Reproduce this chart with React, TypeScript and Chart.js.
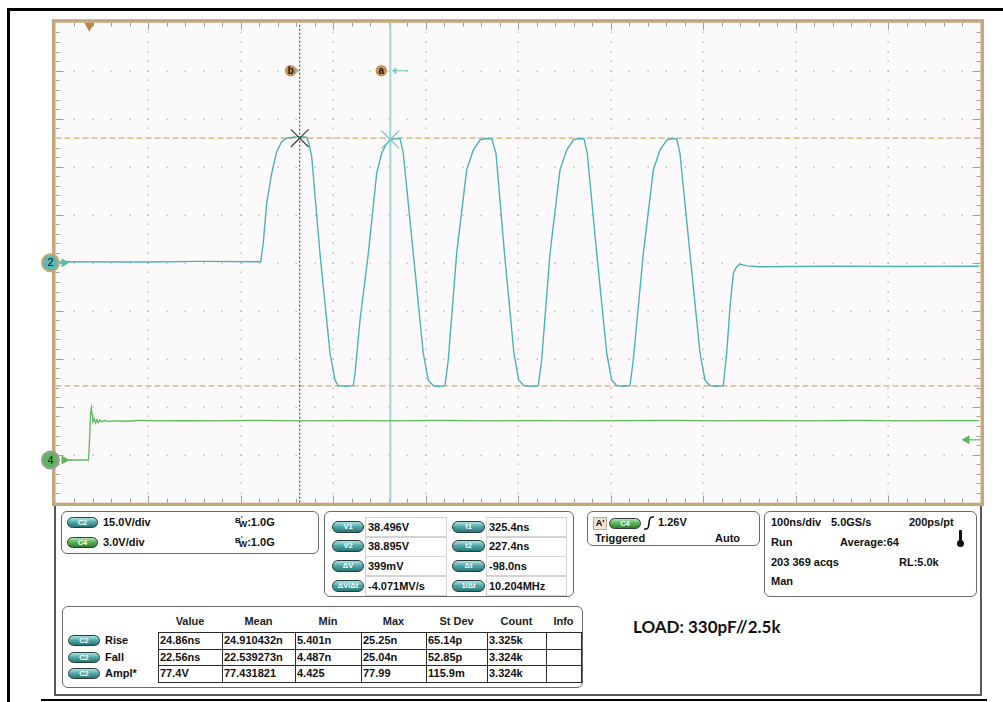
import React, { useEffect, useRef } from "react";
import { Chart, registerables } from "chart.js";

Chart.register(...registerables);

// ---- acquisition settings (from the scope read-out) ----
const DIVS = 10;
const TIME_PER_DIV_NS = 100;
const TIME_MIN_NS = -36.6; // left graticule edge relative to trigger
const CH2_VOLTS_PER_DIV = 15;
const CH4_VOLTS_PER_DIV = 3;
const CH4_OFFSET_DIV = -4.11;

// ---- Channel 2 trace (teal) ----
const CH2_TIME_NS = [
  -35, 60, 120, 185.2, 188.0, 191.7, 197.1, 202.5, 207.9, 213.3, 220, 225.9, 231, 235.0, 237.8, 240.4,
  249.3, 260.2, 265.6, 269.1, 277, 285.3, 287.2, 292.6, 301.6, 310.6, 316.0, 320.5, 325.0, 330, 335.8,
  339.4, 350.2, 361.0, 366.4, 371.8, 378, 384.5, 388.0, 397.1, 407.9, 415.1, 422.3, 428, 435.0, 439.6,
  448.8, 459.0, 464.2, 469.5, 477, 485.3, 489.0, 498.0, 508.8, 516.0, 523.2, 529, 534.8, 538.3, 548.5,
  559.3, 564.7, 570.1, 577, 584.5, 588.0, 598.9, 609.7, 616.9, 624.2, 630, 635.0, 638.5, 649.3, 660.2,
  665.6, 671.0, 678, 685.3, 689.0, 692.6, 696.2, 699.8, 703.4, 710.6, 725.0, 800, 880, 962,
];
const CH2_VOLTS = [
  0.3, 0.2, 0.4, 0.3, 6.1, 18.6, 27.9, 34.7, 37.8, 38.9, 39.2, 39.4, 39.3, 39.2, 36.8, 33.1,
  2.9, -28.3, -36.7, -38.4, -38.6, -38.4, -34.6, -17.9, 2.9, 27.9, 34.2, 36.8, 38.3, 38.7, 38.9,
  34.2, 2.9, -28.3, -36.7, -38.4, -38.7, -38.4, -30.4, 2.9, 29.0, 35.2, 38.3, 38.8, 38.7, 34.2,
  2.9, -28.3, -36.7, -38.4, -38.6, -38.4, -30.4, 2.9, 29.0, 35.2, 38.3, 38.8, 38.7, 34.2, 2.9,
  -28.3, -36.7, -38.4, -38.6, -38.4, -30.4, 2.9, 29.0, 35.2, 38.3, 38.8, 38.7, 34.2, 2.9, -28.3,
  -36.7, -38.4, -38.6, -38.4, -28.3, -13.8, -3.3, -1.25, -0.4, -1.0, -1.25, -1.1, -1.2, -1.1,
];

// ---- Channel 4 trace (green, trigger source) ----
const CH4_TIME_NS = [
  -30, -0.9, 0.2, 1.2, 2.1, 3.2, 3.9, 5.3, 6.9, 8.3, 9.7, 11.5, 13.7, 16.9, 20.2, 28, 40, 55, 75, 100,
  140, 180, 230, 280, 330, 380, 430, 480, 530, 580, 630, 680, 730, 780, 830, 880, 930, 962,
];
const CH4_VOLTS = [
  0, 0, 1.25, 2.8, 3.27, 2.81, 2.38, 2.56, 2.31, 2.53, 2.34, 2.5, 2.38, 2.47, 2.41, 2.45, 2.42, 2.47, 2.44, 2.46,
  2.44, 2.47, 2.45, 2.46, 2.44, 2.47, 2.45, 2.46, 2.44, 2.46, 2.47, 2.45, 2.46, 2.44, 2.47, 2.45, 2.46, 2.46,
];

// ---- reference levels and cursors ----
const REF_LEVELS_V = [38.9, -38.5];
const CURSOR_LABELS = ["a", "b"];
const CURSOR_T_NS = [325.4, 227.4];
const CURSOR_V = [38.496, 38.895];
const TRIGGER_LEVEL_V = 1.26;

// ---- read-out panel texts ----
const CURSOR_LEFT_LABELS = ["V1", "V2", "ΔV", "ΔV/Δt"];
const CURSOR_LEFT_VALUES = ["38.496V", "38.895V", "399mV", "-4.071MV/s"];
const CURSOR_RIGHT_LABELS = ["t1", "t2", "Δt", "1/Δt"];
const CURSOR_RIGHT_VALUES = ["325.4ns", "227.4ns", "-98.0ns", "10.204MHz"];
const MEAS_HEADERS = ["Value", "Mean", "Min", "Max", "St Dev", "Count", "Info"];
const MEAS_NAMES = ["Rise", "Fall", "Ampl*"];
const MEAS_ROWS = [
  ["24.86ns", "24.910432n", "5.401n", "25.25n", "65.14p", "3.325k", ""],
  ["22.56ns", "22.539273n", "4.487n", "25.04n", "52.85p", "3.324k", ""],
  ["77.4V", "77.431821", "4.425", "77.99", "115.9m", "3.324k", ""],
];

const TEAL = "#4cb3b3";
const GREEN = "#5cb85c";
const TAN = "#c6a67c";
const FONT = '"Liberation Sans", Arial, sans-serif';

const graticule = {
  id: "graticule",
  beforeDatasetsDraw(chart: any) {
    const { ctx, chartArea: a, scales } = chart;
    const xs = scales.x;
    const ys = scales.y2;
    const xDiv = (xs.max - xs.min) / DIVS;
    const yDiv = (ys.max - ys.min) / DIVS;
    ctx.save();
    ctx.fillStyle = "#fcf9fa";
    ctx.fillRect(a.left, a.top, a.right - a.left, a.bottom - a.top);
    ctx.fillStyle = "#b4adad";
    for (let i = 1; i < DIVS; i++) {
      const px = Math.round(xs.getPixelForValue(xs.min + i * xDiv));
      for (let j = 1; j < DIVS * 5; j++) {
        const py = Math.round(ys.getPixelForValue(ys.min + (j * yDiv) / 5));
        ctx.fillRect(px - 0.5, py - 0.5, 1.3, 1.3);
      }
    }
    for (let j = 1; j < DIVS; j++) {
      const py = Math.round(ys.getPixelForValue(ys.min + j * yDiv));
      for (let i = 1; i < DIVS * 5; i++) {
        const px = Math.round(xs.getPixelForValue(xs.min + (i * xDiv) / 5));
        ctx.fillRect(px - 0.5, py - 0.5, 1.3, 1.3);
      }
    }
    ctx.strokeStyle = "#a39c97";
    ctx.lineWidth = 1;
    ctx.beginPath();
    for (let i = 1; i < DIVS * 5; i++) {
      const px = Math.round(xs.getPixelForValue(xs.min + (i * xDiv) / 5)) + 0.5;
      const len = i % 5 === 0 ? 7 : 4;
      ctx.moveTo(px, a.top);
      ctx.lineTo(px, a.top + len);
      ctx.moveTo(px, a.bottom);
      ctx.lineTo(px, a.bottom - len);
    }
    for (let j = 1; j < DIVS * 5; j++) {
      const py = Math.round(ys.getPixelForValue(ys.min + (j * yDiv) / 5)) + 0.5;
      const len = j % 5 === 0 ? 8 : 4;
      ctx.moveTo(a.left, py);
      ctx.lineTo(a.left + len, py);
      ctx.moveTo(a.right, py);
      ctx.lineTo(a.right - len, py);
    }
    ctx.stroke();
    ctx.restore();
  },
  afterDatasetsDraw(chart: any) {
    const { ctx, chartArea: a, scales } = chart;
    const xs = scales.x;
    const y2 = scales.y2;
    const y4 = scales.y4;
    ctx.save();
    // border
    ctx.strokeStyle = TAN;
    ctx.lineWidth = 3.5;
    ctx.strokeRect(a.left - 1.75, a.top - 1.75, a.right - a.left + 3.5, a.bottom - a.top + 3.5);

    // trigger position marker
    const tx = xs.getPixelForValue(0);
    ctx.fillStyle = "#b8864a";
    ctx.beginPath();
    ctx.moveTo(tx - 5, a.top);
    ctx.lineTo(tx + 5, a.top);
    ctx.lineTo(tx, a.top + 9);
    ctx.closePath();
    ctx.fill();

    // channel ground markers
    const marker = (y: number, fill: string, ring: string, label: string) => {
      ctx.fillStyle = fill;
      ctx.beginPath();
      ctx.moveTo(a.left + 6, y - 4.5);
      ctx.lineTo(a.left + 14, y);
      ctx.lineTo(a.left + 6, y + 4.5);
      ctx.closePath();
      ctx.fill();
      ctx.beginPath();
      ctx.arc(a.left - 5, y, 8.5, 0, Math.PI * 2);
      ctx.fillStyle = fill;
      ctx.fill();
      ctx.lineWidth = 2;
      ctx.strokeStyle = ring;
      ctx.stroke();
      ctx.fillStyle = "#111";
      ctx.font = `11px ${FONT}`;
      ctx.textAlign = "center";
      ctx.textBaseline = "middle";
      ctx.fillText(label, a.left - 5, y + 0.5);
    };
    marker(y2.getPixelForValue(0), "#5ab8b8", "#c9a66e", "2");
    marker(y4.getPixelForValue(0), "#5db55d", "#9a9a9a", "4");

    // trigger level arrow (right side)
    const ty = y4.getPixelForValue(TRIGGER_LEVEL_V);
    ctx.fillStyle = GREEN;
    ctx.beginPath();
    ctx.moveTo(a.right - 19, ty);
    ctx.lineTo(a.right - 11, ty - 4.5);
    ctx.lineTo(a.right - 11, ty + 4.5);
    ctx.closePath();
    ctx.fill();
    ctx.strokeStyle = GREEN;
    ctx.lineWidth = 1.2;
    ctx.beginPath();
    ctx.moveTo(a.right - 12, ty);
    ctx.lineTo(a.right, ty);
    ctx.stroke();

    // cursor labels
    const ly = y2.getPixelForValue(y2.max - (y2.max - y2.min) / DIVS);
    CURSOR_LABELS.forEach((lab, i) => {
      const cx = xs.getPixelForValue(CURSOR_T_NS[i]);
      const circleX = cx - 9;
      ctx.fillStyle = "#7cc8c8";
      ctx.strokeStyle = "#7cc8c8";
      ctx.lineWidth = 1.2;
      if (lab === "b") {
        ctx.beginPath();
        ctx.moveTo(cx - 4.5, ly - 3.5);
        ctx.lineTo(cx, ly);
        ctx.lineTo(cx - 4.5, ly + 3.5);
        ctx.closePath();
        ctx.fill();
      } else {
        ctx.beginPath();
        ctx.moveTo(cx + 1.5, ly);
        ctx.lineTo(cx + 6, ly - 3.5);
        ctx.lineTo(cx + 6, ly + 3.5);
        ctx.closePath();
        ctx.fill();
        ctx.beginPath();
        ctx.moveTo(cx + 5, ly);
        ctx.lineTo(cx + 18, ly);
        ctx.stroke();
      }
      ctx.beginPath();
      ctx.arc(circleX, ly, 5.8, 0, Math.PI * 2);
      ctx.fillStyle = "#c4955a";
      ctx.fill();
      ctx.fillStyle = "#1a1008";
      ctx.font = `bold 10px ${FONT}`;
      ctx.textAlign = "center";
      ctx.textBaseline = "middle";
      ctx.fillText(lab, circleX, ly + 0.5);
    });
    ctx.restore();
  },
};

function ScopeChart() {
  const ref = useRef<HTMLCanvasElement | null>(null);
  useEffect(() => {
    if (!ref.current) return;
    const ch2 = CH2_TIME_NS.map((t, i) => ({ x: t, y: CH2_VOLTS[i] }));
    const ch4 = CH4_TIME_NS.map((t, i) => ({ x: t, y: CH4_VOLTS[i] }));
    const xMax = TIME_MIN_NS + DIVS * TIME_PER_DIV_NS;
    const y2Half = (DIVS / 2) * CH2_VOLTS_PER_DIV;
    const chart = new Chart(ref.current, {
      type: "line",
      data: {
        datasets: [
          {
            label: "cursor markers",
            data: CURSOR_T_NS.map((t, i) => ({ x: t, y: CURSOR_V[i] })),
            yAxisID: "y2",
            showLine: false,
            pointStyle: "crossRot",
            pointRadius: 12.5,
            pointBorderWidth: 1.3,
            pointBorderColor: ["#7cc8c8", "#3a4a4a"],
            order: 0,
          } as any,
          {
            label: "C2",
            data: ch2,
            yAxisID: "y2",
            borderColor: TEAL,
            borderWidth: 1.4,
            pointRadius: 0,
            tension: 0,
            order: 1,
          },
          {
            label: "C4",
            data: ch4,
            yAxisID: "y4",
            borderColor: GREEN,
            borderWidth: 1.3,
            pointRadius: 0,
            tension: 0,
            order: 2,
          },
          {
            label: "cursor a",
            data: [
              { x: CURSOR_T_NS[0], y: -y2Half },
              { x: CURSOR_T_NS[0], y: y2Half },
            ],
            yAxisID: "y2",
            borderColor: "#9dd6d6",
            borderWidth: 2,
            pointRadius: 0,
            order: 3,
          },
          {
            label: "cursor b",
            data: [
              { x: CURSOR_T_NS[1], y: -y2Half },
              { x: CURSOR_T_NS[1], y: y2Half },
            ],
            yAxisID: "y2",
            borderColor: "#1f3535",
            borderWidth: 1,
            borderDash: [2, 2],
            pointRadius: 0,
            order: 3,
          },
          ...REF_LEVELS_V.map((v) => ({
            label: "ref",
            data: [
              { x: TIME_MIN_NS, y: v },
              { x: xMax, y: v },
            ],
            yAxisID: "y2",
            borderColor: "#dcc29a",
            borderWidth: 1.8,
            borderDash: [6, 3],
            pointRadius: 0,
            order: 4,
          })),
        ],
      },
      options: {
        animation: false,
        responsive: false,
        maintainAspectRatio: false,
        devicePixelRatio: 1,
        layout: { autoPadding: false, padding: { left: 55.5, top: 22.7, right: 22.5, bottom: 7.3 } },
        plugins: { legend: { display: false }, tooltip: { enabled: false }, title: { display: false } },
        events: [],
        scales: {
          x: { type: "linear", min: TIME_MIN_NS, max: xMax, display: false },
          y2: { type: "linear", min: -y2Half, max: y2Half, display: false },
          y4: {
            type: "linear",
            min: (-DIVS / 2 - CH4_OFFSET_DIV) * CH4_VOLTS_PER_DIV,
            max: (DIVS / 2 - CH4_OFFSET_DIV) * CH4_VOLTS_PER_DIV,
            display: false,
          },
        },
      } as any,
      plugins: [graticule],
    });
    return () => chart.destroy();
  }, []);
  return (
    <canvas
      ref={ref}
      width={1003}
      height={510}
      style={{ position: "absolute", left: 0, top: 0, width: 1003, height: 510 }}
    />
  );
}

const abs = (left: number, top: number, extra: React.CSSProperties = {}): React.CSSProperties => ({
  position: "absolute",
  left,
  top,
  ...extra,
});

function Pill({ left, top, w, h, text, green }: { left: number; top: number; w: number; h: number; text: string; green?: boolean }) {
  return (
    <div
      style={abs(left, top, {
        width: w,
        height: h,
        boxSizing: "border-box",
        borderRadius: h / 2,
        border: "1px solid #2d3b3b",
        background: green
          ? "linear-gradient(180deg,#b4e6ae 0%,#5ab556 45%,#2f7d2f 100%)"
          : "linear-gradient(180deg,#b0e4e4 0%,#53acac 45%,#2a7575 100%)",
        color: "#f4ffff",
        fontFamily: FONT,
        fontWeight: 700,
        fontSize: 7.5,
        lineHeight: `${h - 2}px`,
        textAlign: "center",
      })}
    >
      {text}
    </div>
  );
}

function T({ left, top, children, size = 11, extra = {} }: { left: number; top: number; children: React.ReactNode; size?: number; extra?: React.CSSProperties }) {
  return (
    <div
      style={abs(left, top, {
        fontFamily: FONT,
        fontWeight: 700,
        fontSize: size,
        lineHeight: "13px",
        color: "#111",
        whiteSpace: "nowrap",
        ...extra,
      })}
    >
      {children}
    </div>
  );
}

function RBox({ left, top, w, h }: { left: number; top: number; w: number; h: number }) {
  return (
    <div
      style={abs(left, top, {
        width: w,
        height: h,
        boxSizing: "border-box",
        border: "1.5px solid #6a6a6a",
        borderRadius: 6,
        background: "#fff",
      })}
    />
  );
}

function BW({ left, top }: { left: number; top: number }) {
  return (
    <T left={left} top={top}>
      <span style={{ fontSize: 8, position: "relative", top: -3 }}>B</span>
      <span style={{ fontSize: 8, position: "relative", top: -5, marginLeft: 0 }}>ʹ</span>
      <span style={{ fontSize: 9, position: "relative", top: 1, marginLeft: -4 }}>W</span>
      <span>:1.0G</span>
    </T>
  );
}

const MEAS_COLS = [158, 222, 295, 361, 426, 487, 546, 581];
const MEAS_ROW_TOPS = [632, 648.5, 665, 681.5];

export default function App() {
  return (
    <div style={{ position: "absolute", left: 0, top: 0, width: 1003, height: 702, background: "#fff", overflow: "hidden" }}>
      {/* document frame */}
      <div style={abs(7, 8, { width: 996, height: 3, background: "#000" })} />
      <div style={abs(7, 8, { width: 3, height: 694, background: "#000" })} />
      <div style={abs(41, 699, { width: 946, height: 2, background: "#000" })} />

      <ScopeChart />

      {/* read-out panel */}
      <div
        style={abs(54, 506, {
          width: 928,
          height: 190,
          boxSizing: "border-box",
          background: "#fff",
          borderLeft: "2.5px solid #585858",
          borderRight: "2.5px solid #585858",
          borderBottom: "2.5px solid #585858",
        })}
      />

      {/* channel settings */}
      <RBox left={61} top={511} w={258} h={43} />
      <Pill left={67} top={517} w={31} h={11} text="C2" />
      <T left={103} top={516}>15.0V/div</T>
      <BW left={235} top={516} />
      <Pill left={67} top={537} w={31} h={11} text="C4" green />
      <T left={103} top={536}>3.0V/div</T>
      <BW left={235} top={536} />

      {/* cursor read-out */}
      <RBox left={324} top={511} w={250} h={86} />
      {CURSOR_LEFT_LABELS.map((lab, i) => {
        const top = 517 + i * 19.7;
        return (
          <React.Fragment key={lab}>
            <Pill left={332} top={top + 3.5} w={32} h={12} text={lab} />
            <div style={abs(365, top, { width: 82, height: 20, boxSizing: "border-box", border: "1px solid #d4d4d4" })} />
            <T left={368} top={top + 3.5}>{CURSOR_LEFT_VALUES[i]}</T>
            <Pill left={452} top={top + 3.5} w={33} h={12} text={CURSOR_RIGHT_LABELS[i]} />
            <div style={abs(486, top, { width: 81, height: 20, boxSizing: "border-box", border: "1px solid #d4d4d4" })} />
            <T left={489} top={top + 3.5}>{CURSOR_RIGHT_VALUES[i]}</T>
          </React.Fragment>
        );
      })}

      {/* trigger */}
      <RBox left={587} top={511} w={173} h={35} />
      <div
        style={abs(593, 517, {
          width: 14,
          height: 13,
          boxSizing: "border-box",
          border: "1px solid #c9a58a",
          background: "#efe3d8",
          fontFamily: FONT,
          fontWeight: 700,
          fontSize: 9,
          lineHeight: "11px",
          textAlign: "center",
        })}
      >
        A'
      </div>
      <Pill left={609} top={518} w={32} h={11} text="C4" green />
      <svg style={abs(643, 516)} width={12} height={14}>
        <path d="M1 13 L3.5 13 Q5.5 13 6 7 Q6.5 1 9 1 L11 1" stroke="#111" strokeWidth={1.6} fill="none" />
      </svg>
      <T left={658} top={516}>1.26V</T>
      <T left={595} top={532}>Triggered</T>
      <T left={715} top={532}>Auto</T>

      {/* timebase */}
      <RBox left={764} top={511} w={213} h={86} />
      <T left={771} top={516}>100ns/div</T>
      <T left={831} top={516}>5.0GS/s</T>
      <T left={909} top={516}>200ps/pt</T>
      <T left={771} top={536}>Run</T>
      <T left={840} top={536}>Average:64</T>
      <div style={abs(959, 530, { width: 3, height: 12, background: "#111", borderRadius: 1 })} />
      <div style={abs(957, 540, { width: 7, height: 7, background: "#111", borderRadius: 4 })} />
      <T left={771} top={555.5}>203 369 acqs</T>
      <T left={899} top={555.5}>RL:5.0k</T>
      <T left={771} top={575}>Man</T>

      {/* measurements */}
      <RBox left={62} top={606} w={521} h={82} />
      {MEAS_HEADERS.map((h, i) => (
        <T
          key={h}
          left={MEAS_COLS[i]}
          top={614.5}
          extra={{ width: MEAS_COLS[i + 1] - MEAS_COLS[i], textAlign: "center", color: "#222" }}
        >
          {h}
        </T>
      ))}
      {MEAS_NAMES.map((name, r) => {
        const top = MEAS_ROW_TOPS[r];
        const h = MEAS_ROW_TOPS[r + 1] - top;
        return (
          <React.Fragment key={name}>
            <Pill left={68} top={top + 3} w={32} h={11} text="C2" />
            <T left={105} top={top + 2}>{name}</T>
            {MEAS_ROWS[r].map((v, c) => (
              <React.Fragment key={c}>
                <div
                  style={abs(MEAS_COLS[c], top, {
                    width: MEAS_COLS[c + 1] - MEAS_COLS[c] + 1,
                    height: h + 1,
                    boxSizing: "border-box",
                    border: "1px solid #2a2a2a",
                  })}
                />
                <T left={MEAS_COLS[c] + 2} top={top + 2}>{v}</T>
              </React.Fragment>
            ))}
          </React.Fragment>
        );
      })}

      <div
        style={abs(633, 617, {
          fontFamily: "Lato, 'Open Sans', sans-serif",
          fontWeight: 700,
          fontSize: 17,
          lineHeight: "20px",
          color: "#111",
          whiteSpace: "nowrap",
        })}
      >
        LOAD: 330pF//2.5k
      </div>
    </div>
  );
}
